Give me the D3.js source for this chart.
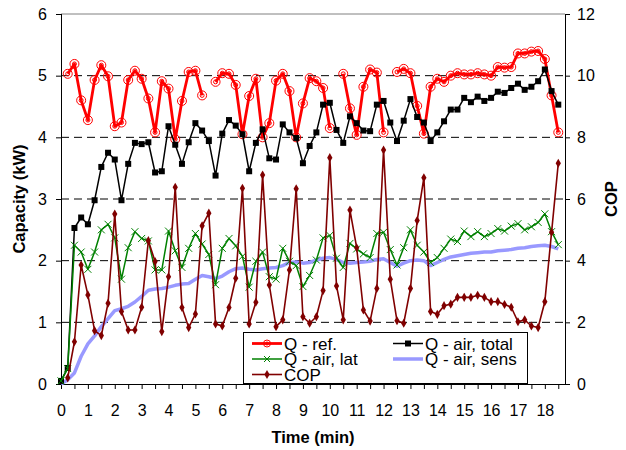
<!DOCTYPE html>
<html>
<head>
<meta charset="utf-8">
<script src="https://cdn.jsdelivr.net/npm/d3@7"></script>
<style>
  body { margin: 0; background: #fff; }
  svg { font-family: "Liberation Sans", Arial, sans-serif; }
</style>
</head>
<body>
<svg id="chart"></svg>
<script>
// time in minutes, one sample every 15 s
var time = [0, 0.25, 0.5, 0.75, 1, 1.25, 1.5, 1.75, 2, 2.25, 2.5, 2.75, 3, 3.25, 3.5, 3.75,
    4, 4.25, 4.5, 4.75, 5, 5.25, 5.5, 5.75, 6, 6.25, 6.5, 6.75, 7, 7.25, 7.5, 7.75,
    8, 8.25, 8.5, 8.75, 9, 9.25, 9.5, 9.75, 10, 10.25, 10.5, 10.75, 11, 11.25, 11.5, 11.75,
    12, 12.25, 12.5, 12.75, 13, 13.25, 13.5, 13.75, 14, 14.25, 14.5, 14.75, 15, 15.25, 15.5, 15.75,
    16, 16.25, 16.5, 16.75, 17, 17.25, 17.5, 17.75, 18, 18.25, 18.5]

var qRef = [null, 5.03, 5.19, 4.60, 4.28, 4.93, 5.17, 4.99, 4.18, 4.24, 4.93, 5.08, 4.95, 4.63, 4.08, 4.91,
    4.79, 3.97, 4.59, 5.06, 5.08, 4.68, null, 4.90, 5.04, 5.03, 4.85, 4.05, 4.67, 4.95, 4.00, 4.23,
    4.92, 5.03, 4.75, 4.00, 4.55, 4.96, 4.91, 4.80, 4.15, null, 5.03, 4.47, 4.04, 4.82, 5.10, 5.05,
    4.08, null, 5.06, 5.11, 5.04, 4.51, 4.06, 4.82, 4.95, 4.90, 5.00, 5.04, 5.02, 5.02, 5.04, 5.02,
    5.00, 5.14, 5.13, 5.14, 5.36, 5.36, 5.39, 5.40, 5.27, 4.68, 4.08]

var qTotal = [0.05, 0.26, 2.53, 2.70, 2.59, 2.98, 3.52, 3.75, 3.64, 2.98, 3.57, 3.91, 3.89, 3.92, 3.43, 3.45,
    4.18, 3.88, 3.57, 3.92, 4.23, 4.11, 3.94, 3.38, 4.06, 4.28, 4.19, 4.05, 3.45, 3.91, 4.13, 3.66,
    3.64, 4.21, 4.08, 3.99, 3.58, 3.86, 4.08, 4.53, 4.56, 4.12, 3.91, 4.34, 4.23, 4.11, 4.10, 4.53,
    4.59, 4.24, 3.94, 4.27, 4.62, 4.33, 4.24, 3.94, 4.08, 4.26, 4.45, 4.45, 4.64, 4.57, 4.66, 4.59,
    4.64, 4.74, 4.72, 4.80, 4.87, 4.77, 4.82, 4.91, 5.10, 4.75, 4.53]

var qLat = [0.05, 0.25, 2.25, 2.14, 1.86, 2.14, 2.50, 2.59, 2.37, 1.70, 2.21, 2.47, 2.36, 2.32, 1.85, 1.85,
    2.48, 2.16, 1.89, 2.20, 2.44, 2.27, 2.10, 1.61, 2.20, 2.36, 2.24, 2.07, 1.57, 1.99, 2.14, 1.74,
    1.70, 2.20, 1.99, 1.92, 1.58, 1.76, 2.01, 2.37, 2.41, 2.04, 1.89, 2.28, 2.19, 2.11, 2.05, 2.44,
    2.46, 2.18, 1.93, 2.21, 2.50, 2.25, 2.14, 1.97, 2.05, 2.20, 2.35, 2.31, 2.48, 2.39, 2.47, 2.39,
    2.44, 2.52, 2.48, 2.56, 2.60, 2.50, 2.55, 2.62, 2.76, 2.47, 2.26]

var qSens = [0.00, 0.07, 0.18, 0.45, 0.65, 0.78, 0.93, 1.06, 1.19, 1.22, 1.26, 1.33, 1.42, 1.52, 1.54, 1.55,
    1.57, 1.60, 1.62, 1.63, 1.70, 1.76, 1.74, 1.71, 1.75, 1.82, 1.87, 1.88, 1.86, 1.85, 1.87, 1.88,
    1.89, 1.92, 1.97, 1.98, 1.96, 1.97, 2.01, 2.04, 2.05, 2.02, 1.97, 1.96, 1.97, 1.98, 1.99, 2.02,
    2.03, 1.97, 1.91, 1.96, 2.00, 2.01, 2.00, 1.92, 1.97, 2.02, 2.06, 2.08, 2.10, 2.12, 2.13, 2.14,
    2.14, 2.16, 2.17, 2.18, 2.20, 2.21, 2.23, 2.24, 2.25, 2.23, 2.19]

var cop = [null, 0.20, 1.37, 3.86, 2.89, 1.73, 1.57, 2.62, 5.51, 2.35, 1.75, 1.75, 2.49, 4.65, 3.97, 1.70,
    3.48, 6.38, 2.48, 1.83, 2.27, 5.13, 5.54, 1.95, 1.88, 2.48, 3.43, 6.35, 1.95, 2.65, 6.78, 3.21,
    1.86, 2.08, 3.70, 6.33, 2.18, 1.97, 2.18, 3.03, 7.34, 3.18, 2.08, 5.64, 4.42, 2.40, 2.04, 3.10,
    7.59, 3.40, 2.05, 1.97, 3.10, 5.30, 6.69, 2.35, 2.26, 2.54, 2.59, 2.81, 2.81, 2.81, 2.88, 2.81,
    2.67, 2.67, 2.58, 2.49, 2.02, 2.08, 1.88, 1.83, 2.67, 4.92, 7.16]

var xTickLabels = [0, 1, 2, 3, 4, 5, 6, 7, 8, 9, 10, 11, 12, 13, 14, 15, 16, 17, 18]
var yLeftTicks = [0, 1, 2, 3, 4, 5, 6]
var yRightTicks = [0, 2, 4, 6, 8, 10, 12]

document.addEventListener("DOMContentLoaded", function(event) {
    drawChart()
});

function drawChart() {
    var svgWidth = 626, svgHeight = 450;
    var margin = { top: 14, right: 61, bottom: 66, left: 61 };
    var width = svgWidth - margin.left - margin.right;
    var height = svgHeight - margin.top - margin.bottom;
    var svg = d3.select('#chart')
        .attr("width", svgWidth)
        .attr("height", svgHeight);

    var g = svg.append("g")
        .attr("transform", "translate(" + margin.left + "," + margin.top + ")");

    var x = d3.scaleLinear().domain([0, 18.75]).range([0, width]);
    var y = d3.scaleLinear().domain([0, 6]).range([height, 0]);
    var y2 = d3.scaleLinear().domain([0, 12]).range([height, 0]);

    // gridlines
    g.append("g")
        .selectAll("line")
        .data(yLeftTicks.filter(function(d) { return d > 0 && d < 6; }))
        .enter().append("line")
        .attr("x1", 0).attr("x2", width)
        .attr("y1", function(d) { return y(d); })
        .attr("y2", function(d) { return y(d); })
        .attr("stroke", "#000")
        .attr("stroke-width", 1)
        .attr("stroke-dasharray", "8,5");

    // top border
    g.append("line")
        .attr("x1", 0).attr("x2", width)
        .attr("y1", y(6)).attr("y2", y(6))
        .attr("stroke", "#808080")
        .attr("stroke-width", 1);

    // X axis: minor ticks every 0.5 min, labels on whole minutes
    var xa = g.append("g")
        .attr("transform", "translate(0," + height + ")")
        .call(d3.axisBottom(x)
            .tickValues(d3.range(0, 18.75, 0.5))
            .tickSize(5)
            .tickPadding(16)
            .tickFormat(function(d) { return xTickLabels.indexOf(d) >= 0 ? d : ""; }));
    xa.select(".domain").attr("d", "M0.5,0.5H" + width);
    xa.selectAll("text").attr("font-size", "16px").attr("font-family", null);

    var ya = g.append("g")
        .call(d3.axisLeft(y).tickValues(yLeftTicks).tickSize(5).tickPadding(9).tickFormat(d3.format("d")));
    ya.select(".domain").attr("d", "M0.5," + height + "V0");
    ya.selectAll("text").attr("font-size", "16px").attr("font-family", null);

    var yb = g.append("g")
        .attr("transform", "translate(" + width + ",0)")
        .call(d3.axisRight(y2).tickValues(yRightTicks).tickSize(5).tickPadding(7).tickFormat(d3.format("d")));
    yb.select(".domain").attr("d", "M0.5," + height + "V0");
    yb.selectAll("text").attr("font-size", "16px").attr("font-family", null);

    // axis titles
    g.append("text")
        .attr("x", width / 2).attr("y", height + 59)
        .attr("text-anchor", "middle")
        .attr("font-size", "16.5px").attr("font-weight", "bold")
        .text("Time (min)");
    g.append("text")
        .attr("transform", "rotate(-90)")
        .attr("x", -height / 2).attr("y", -36)
        .attr("text-anchor", "middle")
        .attr("font-size", "16.5px").attr("font-weight", "bold")
        .text("Capacity (kW)");
    g.append("text")
        .attr("transform", "rotate(-90)")
        .attr("x", -height / 2).attr("y", width + 52)
        .attr("text-anchor", "middle")
        .attr("font-size", "16.5px").attr("font-weight", "bold")
        .text("COP");

    function lineFor(scale) {
        return d3.line()
            .defined(function(d) { return d != null; })
            .x(function(d, i) { return x(time[i]); })
            .y(function(d) { return scale(d); });
    }

    function drawLine(data, scale, color, w) {
        g.append("path")
            .datum(data)
            .attr("fill", "none")
            .attr("stroke", color)
            .attr("stroke-width", w)
            .attr("stroke-linejoin", "round")
            .attr("d", lineFor(scale));
    }

    function points(data) {
        return data.map(function(d, i) { return { t: time[i], v: d }; })
            .filter(function(p) { return p.v != null; });
    }

    // Q - air, sens
    drawLine(qSens, y, "#9999ff", 3.5);

    // Q - ref.
    drawLine(qRef, y, "#ff0000", 2.8);
    var refPts = g.append("g").selectAll("g").data(points(qRef)).enter().append("g")
        .attr("transform", function(p) { return "translate(" + x(p.t) + "," + y(p.v) + ")"; });
    refPts.append("circle").attr("r", 4.5).attr("fill", "none").attr("stroke", "#ff0000").attr("stroke-width", 1);
    refPts.append("circle").attr("r", 2).attr("fill", "none").attr("stroke", "#ff0000").attr("stroke-width", 1);

    // Q - air, total
    drawLine(qTotal, y, "#000", 1.5);
    g.append("g").selectAll("rect").data(points(qTotal)).enter().append("rect")
        .attr("x", function(p) { return x(p.t) - 3; })
        .attr("y", function(p) { return y(p.v) - 3; })
        .attr("width", 6).attr("height", 6)
        .attr("fill", "#000");

    // Q - air, lat
    drawLine(qLat, y, "#008000", 1.5);
    g.append("g").selectAll("path").data(points(qLat)).enter().append("path")
        .attr("d", "M-3.5,-3.5L3.5,3.5M-3.5,3.5L3.5,-3.5")
        .attr("transform", function(p) { return "translate(" + x(p.t) + "," + y(p.v) + ")"; })
        .attr("stroke", "#008000").attr("stroke-width", 1);

    // COP on the right axis
    drawLine(cop, y2, "#800000", 1.6);
    var diamond = d3.symbol().type(d3.symbolDiamond).size(24);
    g.append("g").selectAll("path").data(points(cop)).enter().append("path")
        .attr("d", diamond)
        .attr("transform", function(p) { return "translate(" + x(p.t) + "," + y2(p.v) + ")"; })
        .attr("fill", "#800000");

    // Legend
    var lg = svg.append("g").attr("transform", "translate(243,332)");
    lg.append("rect")
        .attr("x", 0.5).attr("y", 0.5).attr("width", 284).attr("height", 51)
        .attr("fill", "#fff").attr("stroke", "#000").attr("stroke-width", 1);

    var entries = [
        { label: "Q - ref.", col: 0, row: 0, color: "#ff0000", w: 2.8, mark: "ref" },
        { label: "Q - air, lat", col: 0, row: 1, color: "#008000", w: 1.5, mark: "x" },
        { label: "COP", col: 0, row: 2, color: "#800000", w: 1.6, mark: "diamond" },
        { label: "Q - air, total", col: 1, row: 0, color: "#000", w: 1.5, mark: "square" },
        { label: "Q - air, sens", col: 1, row: 1, color: "#9999ff", w: 3.5, mark: null }
    ];
    entries.forEach(function(e) {
        var ex = e.col == 0 ? 9 : 150;
        var ey = 11.5 + e.row * 15.5;
        var eg = lg.append("g").attr("transform", "translate(" + ex + "," + ey + ")");
        eg.append("line").attr("x1", 0).attr("x2", 30).attr("y1", 0).attr("y2", 0)
            .attr("stroke", e.color).attr("stroke-width", e.w);
        if (e.mark == "ref") {
            eg.append("circle").attr("cx", 15).attr("r", 3.5).attr("fill", "none").attr("stroke", e.color);
            eg.append("circle").attr("cx", 15).attr("r", 1.5).attr("fill", "none").attr("stroke", e.color);
        } else if (e.mark == "x") {
            eg.append("path").attr("d", "M12,-3L18,3M12,3L18,-3").attr("stroke", e.color);
        } else if (e.mark == "diamond") {
            eg.append("path").attr("d", diamond).attr("transform", "translate(15,0)").attr("fill", e.color);
        } else if (e.mark == "square") {
            eg.append("rect").attr("x", 12).attr("y", -3).attr("width", 6).attr("height", 6).attr("fill", e.color);
        }
        eg.append("text").attr("x", 32).attr("y", 6)
            .attr("font-size", "17px")
            .text(e.label);
    });
}
</script>
</body>
</html>
